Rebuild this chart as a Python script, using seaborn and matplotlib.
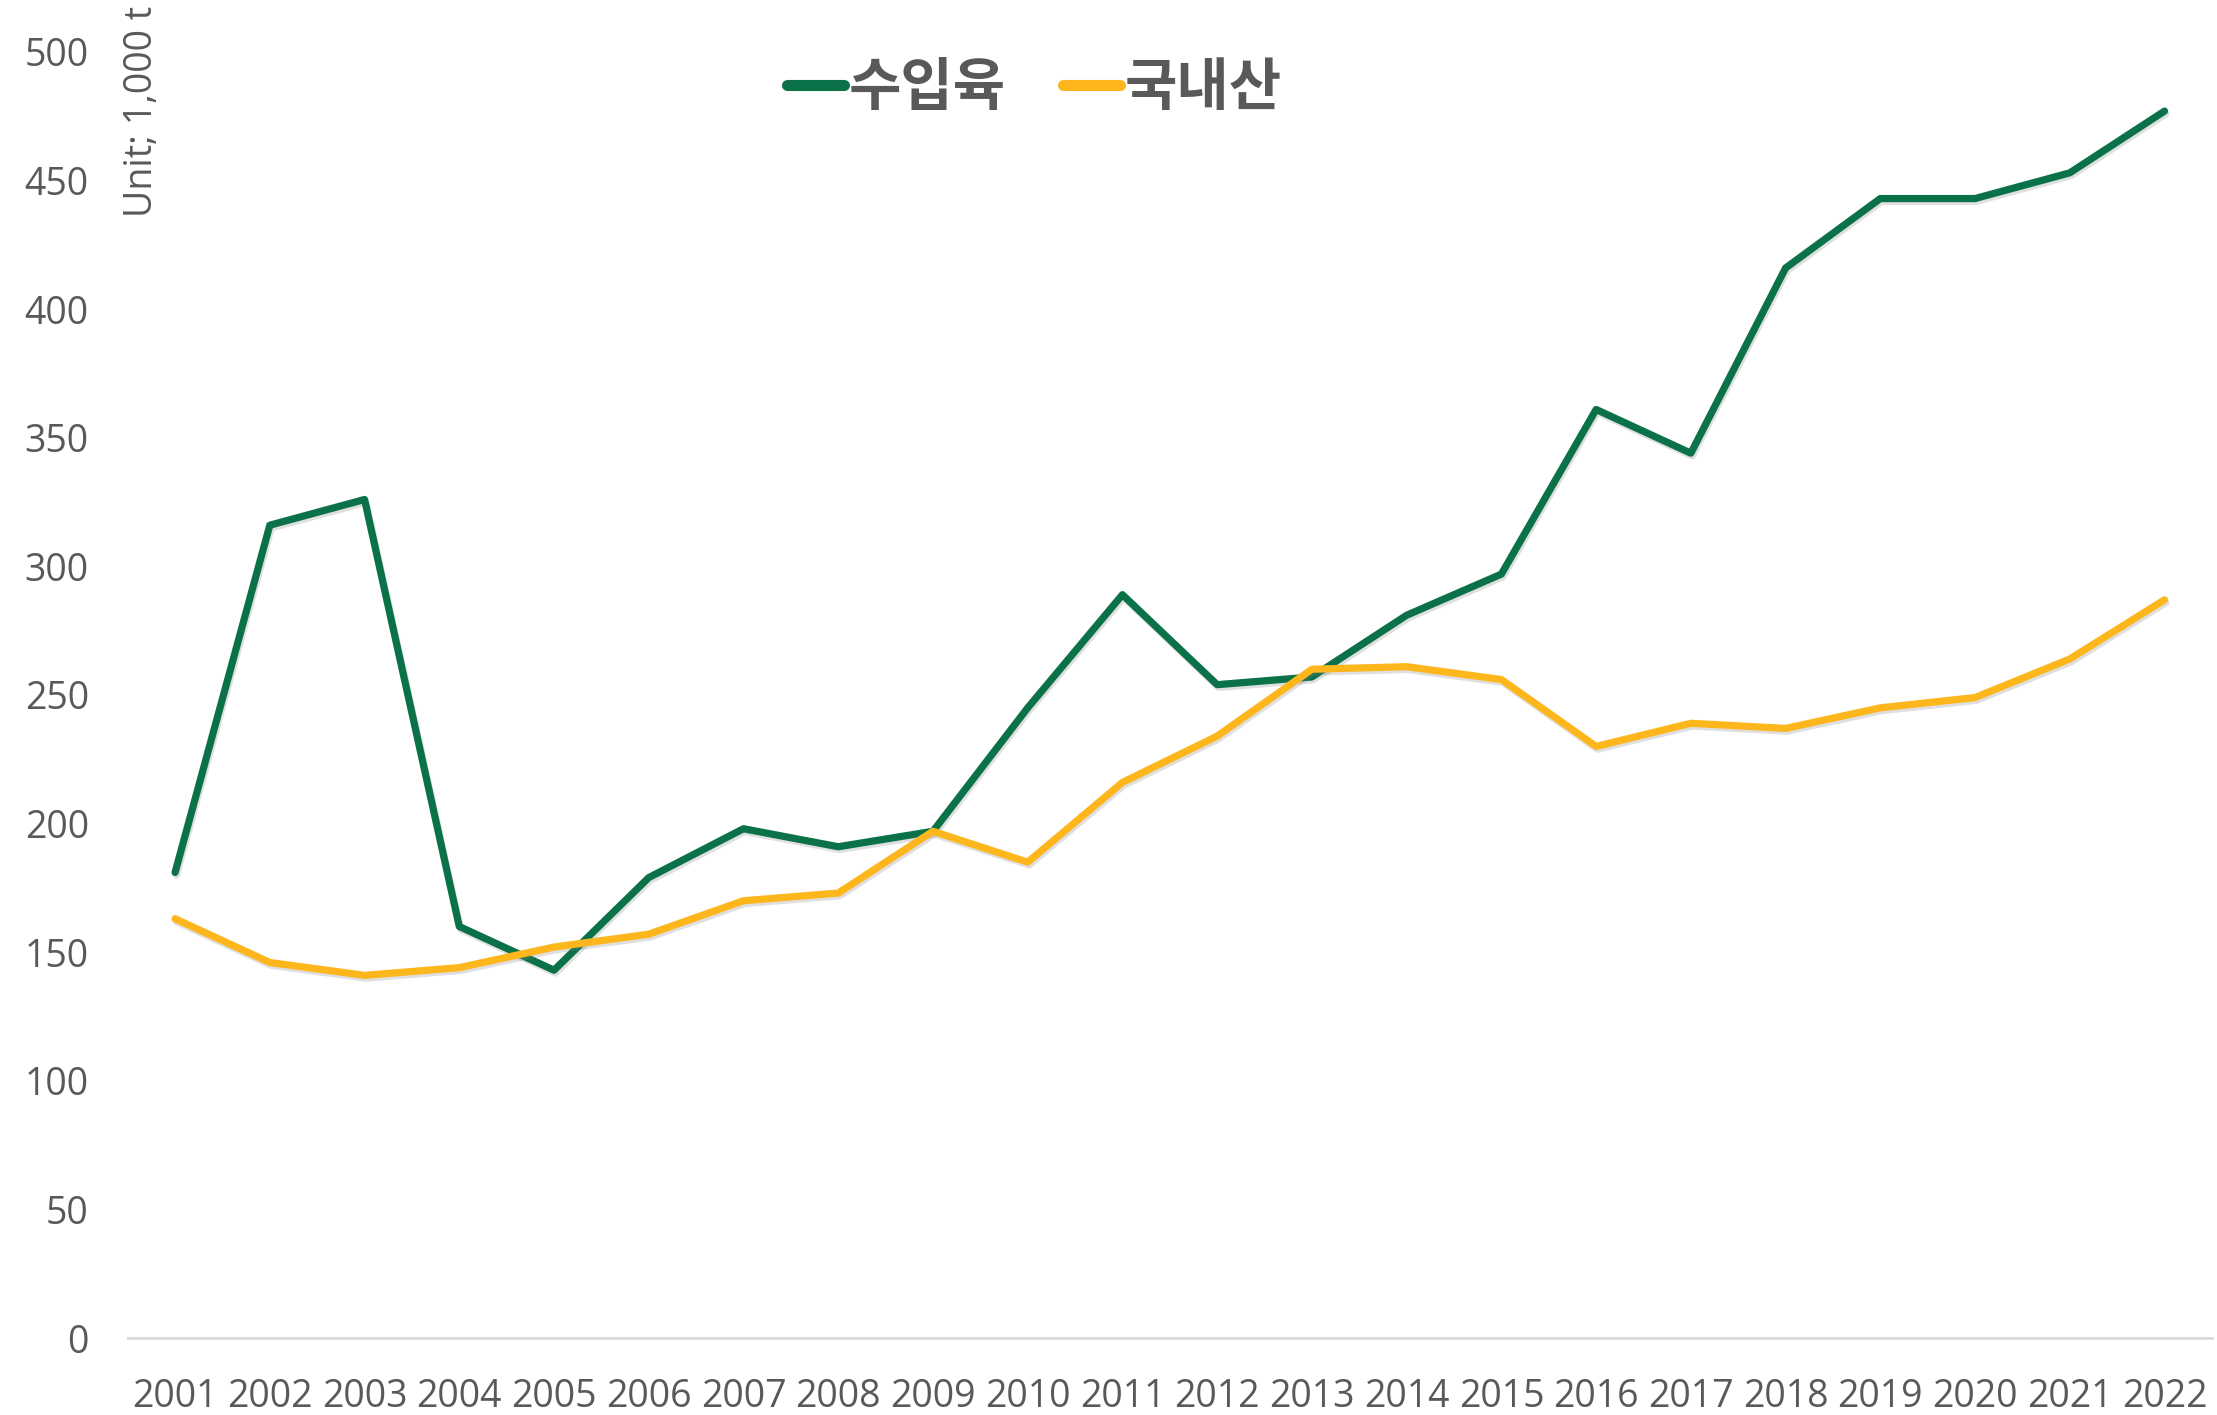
import matplotlib
matplotlib.use("Agg")
import matplotlib.pyplot as plt
import matplotlib.patheffects as pe
import seaborn as sns
import pandas as pd

years = [str(y) for y in range(2001, 2023)]
imported = [181, 316, 326, 160, 143, 179, 198, 191, 197, 245, 289, 254, 257, 281, 297, 361, 344, 416, 443, 443, 453, 477]
domestic = [163, 146, 141, 144, 152, 157, 170, 173, 197, 185, 216, 234, 260, 261, 256, 230, 239, 237, 245, 249, 264, 287]
series_names = ["수입육", "국내산"]
colors = ["#0A7148", "#FDB61C"]
yticks = list(range(0, 501, 50))

df = pd.DataFrame({
    "year": years * 2,
    "value": imported + domestic,
    "series": [series_names[0]] * len(years) + [series_names[1]] * len(years),
})

sns.set_theme(style="white")
plt.rcParams['font.family'] = ['Open Sans', 'Noto Sans CJK KR', 'DejaVu Sans']

fig = plt.figure(figsize=(22.17, 14.15), dpi=100)
ax = fig.add_axes([0.0576, 0.0544, 0.9401, 0.9089])

sns.lineplot(data=df, x="year", y="value", hue="series", palette=colors,
             linewidth=5.2, ax=ax, sort=False)
for line in ax.lines:
    line.set_path_effects([pe.SimpleLineShadow(offset=(1, -2), shadow_color="gray", alpha=0.25),
                           pe.Normal()])

ax.set_xlim(-0.5, len(years) - 0.5)
ax.set_ylim(0, 500)
ax.set_yticks(yticks)
ax.set_xlabel("")
ax.set_ylabel("")
for s in ["top", "right", "left"]:
    ax.spines[s].set_visible(False)
ax.spines["bottom"].set_color("#D9D9D9")
ax.spines["bottom"].set_linewidth(2)
ax.tick_params(axis="both", length=0, colors="#595959", labelsize=27)
ax.tick_params(axis="x", pad=29)
ax.tick_params(axis="y", pad=28)
ax.grid(False)

fig.text(142 / 2217, 1 - 6 / 1415, "Unit; 1,000 t", rotation=90, ha="center", va="top",
         fontsize=27, color="#595959")

leg = ax.legend(loc="center", bbox_to_anchor=(0.435, 0.972), ncol=2, frameon=False,
                handlelength=1.0, handletextpad=0.08, columnspacing=1.0,
                prop={"family": ["Noto Sans CJK KR"], "weight": "bold", "size": 41})
for t in leg.get_texts():
    t.set_color("#595959")
for h in leg.legend_handles:
    h.set_linewidth(8)
    h.set_solid_capstyle("round")
    h.set_path_effects([])

fig.savefig("out.png", dpi=100)
